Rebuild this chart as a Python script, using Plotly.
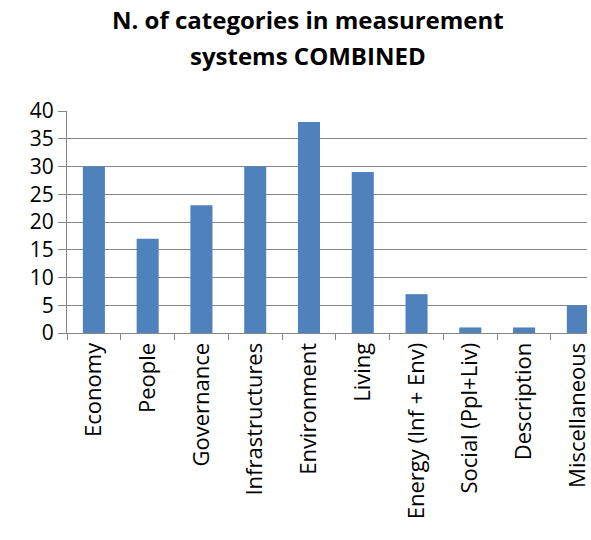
import plotly.graph_objects as go

categories = ["Economy", "People", "Governance", "Infrastructures", "Environment",
              "Living", "Energy (Inf + Env)", "Social (Ppl+Liv)", "Description",
              "Miscellaneous"]
counts = [30, 17, 23, 30, 38, 29, 7, 1, 1, 5]
y_ticks = [0, 5, 10, 15, 20, 25, 30, 35, 40]
title_lines = ["N. of categories in measurement", "systems COMBINED"]

BAR = "#4F81BD"
GRID = "#868686"
FONT = "Open Sans"

fig = go.Figure(go.Bar(x=categories, y=counts, marker=dict(color=BAR, line_width=0)))

fig.update_layout(
    width=591, height=540,
    margin=dict(l=67, r=0, t=111, b=207),
    paper_bgcolor="white", plot_bgcolor="white",
    bargap=0.59,
    showlegend=False,
    font=dict(family=FONT, color="black"),
)

# two-line bold title, placed line by line for wider leading
for line, ypos in zip(title_lines, [1.41, 1.252]):
    fig.add_annotation(
        text=f"<b>{line}</b>", xref="paper", yref="paper",
        x=0.464, y=ypos, xanchor="center", yanchor="middle",
        showarrow=False, font=dict(family=FONT, size=24, color="black"),
    )

fig.update_yaxes(
    range=[0, 40], tickvals=y_ticks,
    showgrid=True, gridcolor=GRID, gridwidth=1,
    showline=True, linecolor=GRID, linewidth=1,
    ticks="outside", ticklen=8, tickcolor=GRID,
    tickfont=dict(family=FONT, size=21, color="black"),
    zeroline=False,
)

fig.update_xaxes(
    range=[-0.5, 9.17],
    showline=True, linecolor=GRID, linewidth=1,
    ticks="outside", ticklen=6, tickcolor=GRID, tickson="boundaries",
    tickangle=-90,
    tickfont=dict(family=FONT, size=22, color="black"),
    showgrid=False,
)

fig.write_html("out.html")
